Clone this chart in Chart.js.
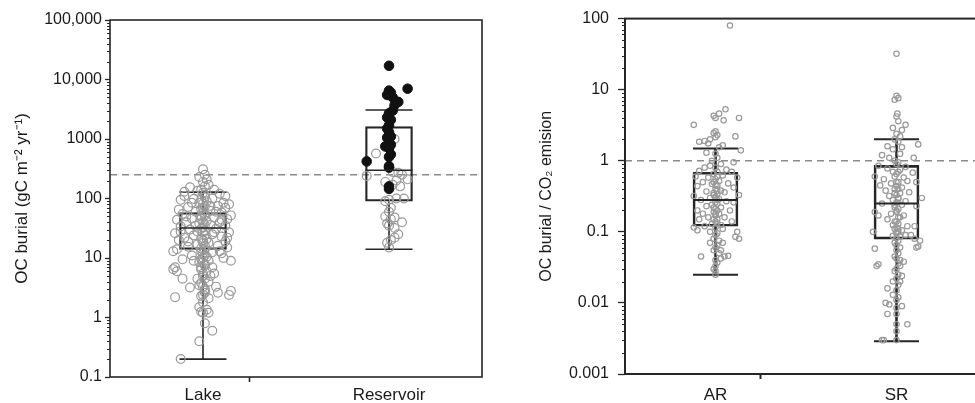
<!DOCTYPE html>
<html>
<head>
<meta charset="utf-8">
<title>OC burial</title>
<script src="https://cdn.jsdelivr.net/npm/chart.js@4.4.0/dist/chart.umd.min.js"></script>
<style>
body { margin: 0; background: #fff; overflow: hidden; width: 975px; height: 403px; position: relative; }
#leftWrap { position: absolute; left: 0; top: 0; width: 490px; height: 403px; }
#rightWrap { position: absolute; left: 490px; top: 0; width: 510px; height: 403px; }
</style>
</head>
<body>
<div id="leftWrap"><canvas id="burialChart"></canvas></div>
<div id="rightWrap"><canvas id="ratioChart"></canvas></div>
<script>
// ---- left panel: OC burial, lakes vs reservoirs ----
var leftCategories = ["Lake", "Reservoir"];
var leftTicks = [0.1, 1, 10, 100, 1000, 10000, 100000];
var leftLow = [0.2, 14];
var leftQ1 = [14, 90];
var leftMedian = [32, 298];
var leftQ3 = [58, 1610];
var leftHigh = [128, 3070];
var leftRef = 250;

// [jitter, value]
var lakePoints = [
  [0, 310], [0.01, 250], [-0.02, 230], [0.02, 210], [0, 190], [0.03, 170], [-0.07, 155], [0.06, 140],
  [-0.03, 135], [0.09, 120], [-0.1, 110], [0.01, 115], [0.05, 100], [-0.05, 98], [-0.12, 95], [0.11, 85],
  [0.14, 80], [0.02, 90], [-0.02, 85], [0.08, 75], [-0.08, 72], [0.12, 70], [-0.13, 65], [0, 70],
  [0.04, 62], [-0.04, 60], [0.1, 58], [-0.11, 55], [0.15, 52], [0.01, 55], [-0.01, 50], [0.06, 48],
  [-0.06, 46], [0.13, 45], [-0.14, 44], [0.02, 42], [0.09, 40], [-0.09, 40], [-0.02, 38], [0.04, 36],
  [0.12, 35], [-0.12, 34], [0, 33], [0.07, 31], [-0.07, 30], [0.01, 29], [-0.03, 28], [0.14, 27],
  [-0.15, 26], [0.05, 25], [-0.05, 24], [0.1, 23], [-0.1, 22], [0.02, 21], [0, 20], [-0.13, 20],
  [0.12, 19], [0.03, 18], [-0.03, 17], [0.08, 16], [-0.08, 15.5], [0.13, 15], [-0.14, 14], [0.01, 14],
  [-0.01, 13], [0.05, 12.5], [-0.16, 13], [0.1, 12], [-0.06, 11], [0.02, 10.5], [0, 10], [0.11, 10],
  [-0.11, 9.5], [0.15, 9], [0.03, 9], [-0.02, 8.5], [-0.15, 7], [-0.14, 6], [-0.16, 6.5], [0.01, 7.5],
  [-0.01, 7], [0.02, 6], [-0.11, 4.5], [0, 5.5], [0.04, 5], [0.06, 5.5], [-0.03, 4.5], [0.03, 4],
  [-0.02, 3.5], [-0.07, 3.2], [0.07, 3.3], [0.01, 3], [0.08, 2.6], [0.15, 2.8], [0.14, 2.4], [-0.15, 2.2],
  [0.01, 2.6], [-0.01, 2.3], [0.03, 2.1], [0, 1.8], [-0.02, 1.5], [0.02, 1.35], [0, 1.2], [0.03, 1.2],
  [-0.01, 1.25], [0.01, 0.8], [0.05, 0.6], [-0.02, 0.4], [-0.12, 0.2],
  [0.01, 160], [-0.01, 140], [0, 125], [0.01, 105], [-0.01, 95], [0, 82], [0.01, 74], [-0.01, 66],
  [0, 58], [0.01, 52], [-0.01, 45], [0, 40], [0.01, 36], [-0.01, 31], [0, 27], [0.01, 24],
  [-0.01, 21], [0, 18], [0.01, 16], [-0.01, 14.5], [0, 12], [0.01, 11], [-0.01, 9.5], [0, 8.5],
  [0.01, 7.8], [-0.01, 6.5], [0, 5], [0.01, 4.5], [-0.01, 3.8], [0, 3.3], [0.01, 2.8], [0, 2.4],
  [-0.06, 85], [0.07, 60], [-0.09, 50], [0.1, 44], [-0.04, 35], [0.06, 27], [-0.08, 19], [0.09, 13],
  [-0.05, 9], [0.05, 7], [0.12, 110], [-0.1, 130], [0.04, 75], [-0.12, 28], [0.13, 22]
];
var reservoirOpen = [
  [0.03, 1000], [-0.07, 570], [-0.12, 240], [0.02, 280], [0.05, 270], [0.07, 250], [0.1, 210],
  [0.04, 200], [-0.02, 190], [0.02, 170], [0.06, 160], [0.08, 100], [0.04, 100], [0, 95], [-0.02, 90],
  [0.01, 70], [0, 60], [-0.02, 50], [0.01, 45], [0.03, 48], [0.07, 40], [-0.01, 38], [0, 35],
  [0.03, 32], [0.05, 25], [0.03, 22], [0.01, 20], [-0.01, 18], [0, 15]
];
var reservoirFilled = [
  [0, 17000], [0.1, 7000], [0, 6500], [0.01, 6000], [-0.01, 5500], [0.02, 5000], [0.05, 4200],
  [0.03, 3700], [0.02, 3000], [0, 2700], [-0.01, 2300], [0.01, 2100], [0, 1700], [-0.01, 1500],
  [0, 1300], [0.01, 1100], [-0.01, 1050], [0, 1000], [0.01, 800], [-0.02, 750], [0, 700],
  [0.01, 550], [0, 500], [-0.12, 420], [0, 350], [0, 330], [0, 160], [0, 145]
];

// ---- right panel: OC burial / CO2 emission ----
var rightCategories = ["AR", "SR"];
var rightTicks = [0.001, 0.01, 0.1, 1, 10, 100];
var rightLow = [0.025, 0.0029];
var rightQ1 = [0.12, 0.079];
var rightMedian = [0.28, 0.25];
var rightQ3 = [0.69, 0.86];
var rightHigh = [1.49, 2.0];
var rightRef = 1;

var arPoints = [
  [0.08, 80], [-0.12, 3.2], [0.055, 5.3], [0.02, 4.6], [-0.01, 4.3], [0, 4.0], [0.045, 3.7], [0.13, 4.0],
  [0.11, 2.2], [0, 2.6], [-0.01, 2.45], [0.01, 2.3], [0, 2.15], [-0.03, 2.0], [-0.06, 1.9], [-0.09, 1.85],
  [-0.04, 1.75], [0.04, 1.65], [0.02, 1.55], [0.1, 0.95], [0.14, 1.4], [-0.05, 1.3], [0, 1.25], [0.01, 1.1],
  [-0.02, 1.0], [0.03, 0.9], [-0.03, 0.85], [0, 0.8], [-0.06, 0.8], [0.06, 0.75], [-0.09, 0.72], [0.09, 0.7],
  [0.01, 0.7], [-0.01, 0.65], [0.04, 0.62], [-0.11, 0.6], [-0.04, 0.58], [0.12, 0.58], [0, 0.55], [0.02, 0.52],
  [-0.07, 0.5], [0.07, 0.48], [-0.02, 0.47], [0.01, 0.45], [-0.1, 0.44], [0.1, 0.42], [0, 0.4], [0.03, 0.38],
  [-0.05, 0.37], [0.05, 0.36], [-0.01, 0.35], [0.01, 0.34], [-0.12, 0.32], [0.13, 0.33], [0, 0.31], [-0.03, 0.3],
  [0.02, 0.29], [-0.08, 0.28], [0.06, 0.27], [0, 0.26], [0.01, 0.25], [-0.02, 0.24], [0.1, 0.26], [-0.05, 0.23],
  [0.03, 0.22], [0, 0.21], [-0.1, 0.2], [0.08, 0.2], [-0.01, 0.19], [0.02, 0.18], [-0.07, 0.18], [0, 0.17],
  [-0.04, 0.16], [0.05, 0.16], [0.01, 0.15], [-0.09, 0.15], [0.09, 0.14], [0, 0.14], [-0.02, 0.13], [0.03, 0.125],
  [-0.06, 0.12], [-0.12, 0.115], [0, 0.115], [0.04, 0.11], [-0.1, 0.105], [0.12, 0.1], [-0.03, 0.1], [0.01, 0.095],
  [0.11, 0.085], [0.13, 0.08], [0, 0.09], [-0.01, 0.08], [0.02, 0.075], [-0.03, 0.07], [0.04, 0.07], [0.01, 0.065],
  [0, 0.06], [-0.01, 0.055], [0.03, 0.055], [0.02, 0.05], [-0.08, 0.045], [0.05, 0.045], [0.07, 0.046], [0.03, 0.042],
  [0, 0.04], [0.01, 0.037], [0, 0.033], [-0.01, 0.03], [0, 0.028], [0, 0.025],
  [0.01, 0.6], [-0.01, 0.5], [0, 0.45], [0.01, 0.38], [-0.01, 0.33], [0.01, 0.28], [-0.01, 0.22], [0.01, 0.2],
  [0, 0.18], [-0.01, 0.15], [0.01, 0.13]
];
var srPoints = [
  [0, 32], [0, 8.2], [0.01, 7.6], [-0.01, 7.2], [0.005, 4.6], [0, 4.2], [0.01, 3.6], [0.05, 3.2],
  [-0.02, 2.9], [0.03, 2.7], [0, 2.4], [0.02, 2.2], [-0.01, 2.0], [0.01, 1.85], [-0.05, 1.6], [0.12, 1.7],
  [0.03, 1.55], [-0.02, 1.45], [0.095, 1.1], [-0.08, 1.2], [-0.04, 1.1], [0.02, 1.25], [-0.01, 1.0], [0.01, 0.95],
  [0, 0.9], [-0.1, 0.85], [0.05, 0.82], [-0.05, 0.78], [0.02, 0.75], [-0.02, 0.7], [0.09, 0.68], [0, 0.65],
  [-0.12, 0.6], [0.04, 0.58], [-0.07, 0.55], [0.06, 0.52], [0.01, 0.5], [-0.03, 0.48], [0.11, 0.5], [-0.09, 0.45],
  [0, 0.44], [0.03, 0.42], [-0.01, 0.4], [-0.06, 0.38], [0.07, 0.36], [0.02, 0.35], [0, 0.33], [-0.04, 0.32],
  [0.14, 0.3], [0.01, 0.29], [-0.02, 0.28], [0.05, 0.27], [0, 0.26], [-0.08, 0.25], [0.03, 0.24], [0.11, 0.23],
  [-0.01, 0.22], [0.01, 0.21], [-0.12, 0.19], [0, 0.2], [-0.03, 0.18], [-0.1, 0.17], [0.04, 0.17], [0.02, 0.16],
  [-0.05, 0.15], [0, 0.14], [0.01, 0.13], [-0.02, 0.125], [0.06, 0.12], [0.1, 0.12], [0, 0.115], [-0.01, 0.11],
  [0.03, 0.105], [0.01, 0.1], [-0.13, 0.1], [0, 0.095], [0.05, 0.09], [0.08, 0.09], [-0.02, 0.088], [0.02, 0.085],
  [0.1, 0.08], [0.13, 0.075], [0.12, 0.062], [0.11, 0.06], [0, 0.082], [0.01, 0.075], [-0.01, 0.07], [0, 0.065],
  [0.02, 0.06], [-0.12, 0.058], [0, 0.055], [0.01, 0.05], [-0.01, 0.045], [0, 0.042], [0.02, 0.04], [0.04, 0.038],
  [-0.1, 0.035], [-0.11, 0.033], [0.01, 0.036], [0.02, 0.033], [0, 0.03], [-0.01, 0.028], [0.01, 0.025], [0.03, 0.024],
  [0, 0.022], [-0.02, 0.02], [0.02, 0.02], [0.01, 0.018], [-0.05, 0.016], [0, 0.015], [-0.02, 0.013], [0.01, 0.012],
  [0, 0.011], [-0.06, 0.01], [-0.04, 0.0095], [0.03, 0.009], [0, 0.0085], [-0.05, 0.007], [0, 0.007], [0.06, 0.005],
  [0, 0.005], [0, 0.004], [-0.07, 0.003], [-0.08, 0.003], [0, 0.003],
  [0.01, 0.7], [-0.01, 0.6], [0, 0.5], [0.01, 0.4], [-0.01, 0.35], [0.01, 0.3], [-0.01, 0.24], [0, 0.19],
  [0.01, 0.16], [-0.01, 0.14], [0.01, 0.11], [0, 0.1]
];

var FONT = "'Liberation Sans', Arial, sans-serif";
var INK = "#262626";
var DOT = "#999999";

// turn [jitter, value] pairs into scatter points around category i
function placePoints(pairs, i) {
  return pairs.map(function (p) { return { x: i + 0.5 + p[0], y: p[1] }; });
}

// whiskers, caps, median, dashed reference line, frame and minor log ticks
var boxLines = {
  id: "boxLines",
  beforeDatasetsDraw: function (chart, args, o) {
    var ctx = chart.ctx, a = chart.chartArea, x = chart.scales.x, y = chart.scales.y;
    ctx.save();
    // dashed line
    ctx.strokeStyle = "#8a8a8a";
    ctx.lineWidth = 1.5;
    ctx.setLineDash([7, 5]);
    ctx.beginPath();
    ctx.moveTo(a.left, y.getPixelForValue(o.ref));
    ctx.lineTo(a.right, y.getPixelForValue(o.ref));
    ctx.stroke();
    ctx.setLineDash([]);

    ctx.strokeStyle = INK;
    o.low.forEach(function (lo, i) {
      var cx = x.getPixelForValue(i + 0.5);
      var half = o.capWidth / 2;
      ctx.lineWidth = o.whiskerWidth;
      ctx.beginPath();
      ctx.moveTo(cx, y.getPixelForValue(lo));
      ctx.lineTo(cx, y.getPixelForValue(o.q1[i]));
      ctx.moveTo(cx, y.getPixelForValue(o.q3[i]));
      ctx.lineTo(cx, y.getPixelForValue(o.high[i]));
      ctx.stroke();
      ctx.lineWidth = o.lineWidth;
      ctx.beginPath();
      [lo, o.high[i]].forEach(function (v) {
        var py = y.getPixelForValue(v);
        ctx.moveTo(cx - half, py);
        ctx.lineTo(cx + half, py);
      });
      ctx.stroke();
    });
    ctx.restore();
  },
  afterDatasetsDraw: function (chart, args, o) {
    var ctx = chart.ctx, x = chart.scales.x, y = chart.scales.y;
    ctx.save();
    ctx.strokeStyle = INK;
    ctx.lineWidth = o.lineWidth;
    ctx.beginPath();
    o.median.forEach(function (m, i) {
      var cx = x.getPixelForValue(i + 0.5);
      var py = y.getPixelForValue(m);
      ctx.moveTo(cx - o.capWidth / 2, py);
      ctx.lineTo(cx + o.capWidth / 2, py);
    });
    ctx.stroke();
    ctx.restore();
  },
  afterDraw: function (chart, args, o) {
    var ctx = chart.ctx, a = chart.chartArea, y = chart.scales.y;
    ctx.save();
    ctx.strokeStyle = INK;
    ctx.lineWidth = o.frameWidth;
    ctx.strokeRect(a.left, a.top, a.right - a.left, a.bottom - a.top);
    ctx.lineWidth = 1;
    ctx.beginPath();
    for (var d = y.min; d < y.max * 0.99; d *= 10) {
      for (var k = 2; k < 10; k++) {
        var py = Math.round(y.getPixelForValue(k * d)) + 0.5;
        ctx.moveTo(a.left - o.minorLen, py);
        ctx.lineTo(a.left, py);
      }
    }
    ctx.stroke();
    ctx.restore();
  }
};

function tickText(v) {
  if (v >= 10000) return v.toLocaleString("en-US");
  return String(v);
}

function makePanel(id, p) {
  var boxData = p.q1.map(function (q, i) { return { x: i + 0.5, y: [q, p.q3[i]] }; });
  return new Chart(id, {
    type: "scatter",
    data: {
      datasets: p.sets.concat([{
        type: "bar",
        data: boxData,
        backgroundColor: "rgba(0,0,0,0)",
        borderColor: INK,
        borderWidth: p.lineWidth,
        borderSkipped: false,
        barThickness: p.boxWidth
      }])
    },
    options: {
      responsive: true,
      maintainAspectRatio: false,
      animation: false,
      layout: { padding: p.padding },
      plugins: {
        legend: { display: false },
        tooltip: { enabled: false },
        boxLines: {
          low: p.low, q1: p.q1, median: p.median, q3: p.q3, high: p.high, ref: p.ref,
          capWidth: p.boxWidth, lineWidth: p.lineWidth, whiskerWidth: p.whiskerWidth,
          frameWidth: p.frameWidth, minorLen: p.minorLen
        }
      },
      scales: {
        x: {
          type: "linear",
          min: 0,
          max: 2,
          offset: false,
          afterBuildTicks: function (s) { s.ticks = [{ value: 0.5 }, { value: 1 }, { value: 1.5 }]; },
          afterFit: function (s) { s.height = p.xHeight; },
          ticks: {
            autoSkip: false,
            maxRotation: 0,
            padding: p.xPad,
            color: "#1a1a1a",
            font: { family: FONT, size: 17 },
            callback: function (v) { return v === 0.5 ? p.categories[0] : v === 1.5 ? p.categories[1] : ""; }
          },
          grid: {
            drawOnChartArea: false,
            tickLength: 5,
            tickWidth: p.frameWidth,
            tickColor: function (c) { return c.tick && c.tick.value === 1 ? INK : "rgba(0,0,0,0)"; }
          },
          border: { display: false }
        },
        y: {
          type: "logarithmic",
          min: p.ticks[0],
          max: p.ticks[p.ticks.length - 1],
          afterBuildTicks: function (s) { s.ticks = p.ticks.map(function (v) { return { value: v, major: true }; }); },
          afterFit: function (s) { s.width = p.yWidth; },
          ticks: {
            autoSkip: false,
            padding: p.yPad,
            color: "#1a1a1a",
            font: { family: FONT, size: 16 },
            callback: function (v) { return tickText(v); }
          },
          grid: { drawOnChartArea: false, tickLength: p.majorLen, tickColor: INK, tickWidth: 1.3 },
          border: { display: false },
          title: {
            display: true,
            text: p.title,
            color: "#1a1a1a",
            font: { family: FONT, size: p.titleSize },
            padding: { top: p.titlePad, bottom: 0 }
          }
        }
      }
    },
    plugins: [boxLines]
  });
}

makePanel("burialChart", {
  categories: leftCategories, ticks: leftTicks,
  low: leftLow, q1: leftQ1, median: leftMedian, q3: leftQ3, high: leftHigh, ref: leftRef,
  sets: [
    { data: placePoints(reservoirFilled, 1), pointRadius: 4.8, pointBackgroundColor: "#111", pointBorderColor: "#111", pointBorderWidth: 1 },
    { data: placePoints(lakePoints, 0), pointRadius: 4.4, pointBackgroundColor: "rgba(255,255,255,0)", pointBorderColor: DOT, pointBorderWidth: 1.2 },
    { data: placePoints(reservoirOpen, 1), pointRadius: 4.4, pointBackgroundColor: "rgba(255,255,255,0)", pointBorderColor: DOT, pointBorderWidth: 1.2 }
  ],
  boxWidth: 47, lineWidth: 1.6, whiskerWidth: 1.6, frameWidth: 1.6, minorLen: 3, majorLen: 5,
  padding: { top: 20, right: 8, left: 0, bottom: 0 },
  yWidth: 110, xHeight: 26, yPad: 3, xPad: 3,
  title: "OC burial (gC m\u207B\u00B2 yr\u207B\u00B9)", titleSize: 17, titlePad: 12
});

makePanel("ratioChart", {
  categories: rightCategories, ticks: rightTicks,
  low: rightLow, q1: rightQ1, median: rightMedian, q3: rightQ3, high: rightHigh, ref: rightRef,
  sets: [
    { data: placePoints(arPoints, 0), pointRadius: 2.7, pointBackgroundColor: "rgba(255,255,255,0)", pointBorderColor: DOT, pointBorderWidth: 1.2 },
    { data: placePoints(srPoints, 1), pointRadius: 2.7, pointBackgroundColor: "rgba(255,255,255,0)", pointBorderColor: DOT, pointBorderWidth: 1.2 }
  ],
  boxWidth: 45, lineWidth: 2, whiskerWidth: 2.6, frameWidth: 2, minorLen: 3, majorLen: 7,
  padding: { top: 18, right: 13, left: 0, bottom: 0 },
  yWidth: 135, xHeight: 29, yPad: 9, xPad: 6,
  title: "OC burial / CO\u2082 emision", titleSize: 16, titlePad: 47
});
</script>
</body>
</html>
